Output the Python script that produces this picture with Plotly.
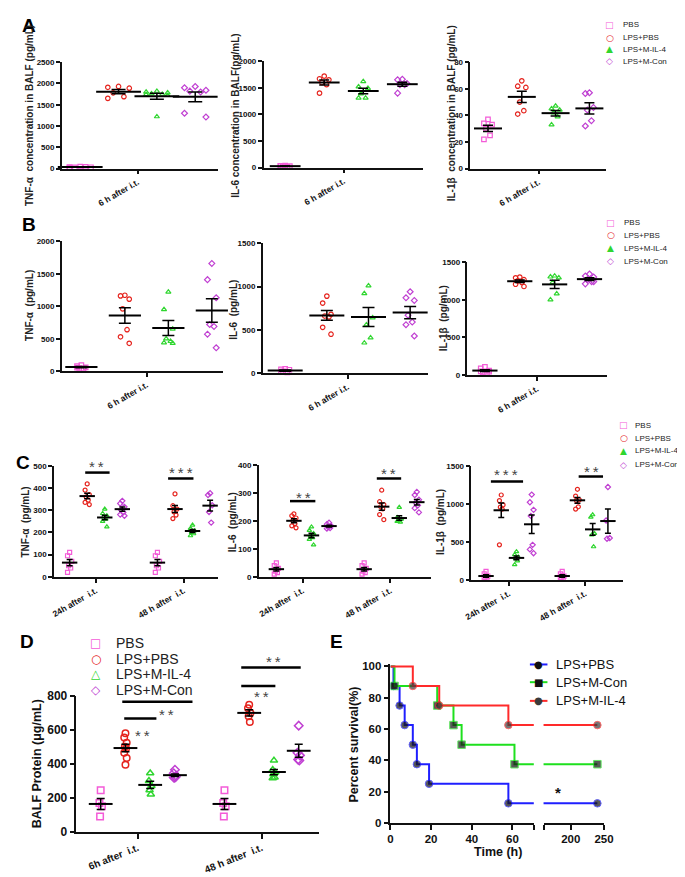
import numpy as np
import plotly.graph_objects as go

W, H = 685, 877
FONT = "Liberation Sans, Arial, sans-serif"
AX = "#111111"

groups = ["PBS", "LPS+PBS", "LPS+M-IL-4", "LPS+M-Con"]
colors = ["#f45bd8", "#e5231d", "#2fd62f", "#c03fd2"]
symbols = ["square-open", "circle-open", "triangle-up-open", "diamond-open"]
glyphs_small = ["\u25a1", "\u25cb", "\u25b2", "\u25c7"]
glyphs_big = ["\u25a1", "\u25cb", "\u25b3", "\u25c7"]

# A: 6 h after i.t., concentration in BALF (PBS, LPS+PBS, LPS+M-IL-4, LPS+M-Con)
a_tnf = [[45, 35, 30, 25, 40, 20],
         [1930, 1910, 1890, 1780, 1690, 1650],
         [1820, 1800, 1780, 1760, 1750, 1740, 1720, 1220],
         [1930, 1900, 1840, 1820, 1800, 1300, 1210]]
a_il6 = [[35, 30, 25, 20, 15, 30],
         [1720, 1670, 1650, 1600, 1560, 1400],
         [1620, 1520, 1490, 1390, 1310, 1310],
         [1660, 1650, 1580, 1560, 1560, 1400]]
a_il1b = [[37, 34, 33, 30, 25, 22],
          [66, 62, 61, 50, 43.5, 41],
          [47, 45, 44, 42, 39, 33],
          [57, 56.5, 46, 44, 36, 32]]

# B: 6 h after i.t.
b_tnf = [[95, 80, 60, 50, 40, 55],
         [1170, 1160, 1110, 960, 640, 530, 430],
         [1220, 950, 650, 500, 460, 440, 430],
         [1660, 1410, 1130, 720, 690, 570, 360]]
b_il6 = [[50, 45, 40, 20, 10, 15],
         [890, 810, 680, 660, 650, 530, 450],
         [1010, 920, 640, 560, 410, 350],
         [940, 870, 840, 670, 590, 560, 430]]
b_il1b = [[110, 90, 60, 40, 30, 50, 45],
          [1300, 1290, 1265, 1250, 1230, 1205, 1175],
          [1316, 1303, 1290, 1230, 1080, 1000],
          [1340, 1315, 1300, 1265, 1240, 1210, 1240]]

# C: 24 h and 48 h after i.t.
c_tnf_24 = [[110, 95, 70, 50, 40, 20],
            [418, 390, 370, 360, 345, 335, 325],
            [305, 285, 275, 270, 260, 250, 225],
            [342, 330, 315, 300, 290, 280, 275]]
c_tnf_48 = [[110, 95, 70, 50, 40, 20],
            [373, 320, 305, 292, 278, 262],
            [233, 218, 208, 200, 194, 185],
            [376, 368, 322, 292, 244]]
c_il6_24 = [[50, 40, 30, 20, 15, 10],
            [225, 218, 210, 200, 190, 182, 175],
            [178, 166, 155, 148, 140, 134, 114],
            [193, 188, 182, 178, 174, 172]]
c_il6_48 = [[50, 40, 30, 20, 15, 10],
            [309, 268, 258, 250, 242, 222, 204],
            [248, 212, 206, 200, 195, 198],
            [303, 292, 275, 265, 255, 245, 230]]
c_il1b_24 = [[110, 80, 50, 30, 20, 10],
             [1115, 1040, 985, 955, 930, 460],
             [370, 330, 300, 280, 250, 200],
             [1120, 1020, 920, 840, 460, 400, 350]]
c_il1b_48 = [[110, 80, 50, 30, 20, 10],
             [1190, 1100, 1050, 1040, 960, 930],
             [855, 825, 610, 590, 435],
             [1220, 780, 550, 540]]

# D: BALF protein
d_6h = [[245, 170, 150, 90],
        [580, 555, 525, 500, 490, 465, 435, 395],
        [345, 300, 270, 245, 220],
        [365, 345, 330, 318, 322, 320]]
d_48h = [[245, 170, 150, 90],
         [748, 727, 700, 680, 646],
         [420, 365, 350, 340, 320, 316],
         [625, 465, 450, 425, 420]]

# E: survival
surv_time_pbs = [0, 1.5, 4.5, 7, 11, 13, 19, 58, 240]
surv_pbs = [100, 87.5, 75, 62.5, 50, 37.5, 25, 12.5, 12.5]
surv_time_con = [0, 2, 23, 31, 35, 61, 240]
surv_con = [100, 87.5, 75, 62.5, 50, 37.5, 37.5]
surv_time_il4 = [0, 11, 24, 58, 240]
surv_il4 = [100, 87.5, 75, 62.5, 62.5]

fig = go.Figure()
JIT = np.array([0, -1, 1, -0.5, 0.5, -1, 1, 0])


def nm(n, a):
    return a if n == 1 else f"{a}{n}"


def add_dots(n, clusters, centers, spread, mean_w, cap, msize, lw=1.2):
    for g in range(4):
        xs, ys, mx, my, se = [], [], [], [], []
        for c, data in zip(centers, clusters):
            v = np.array(data[g], float)
            xs += list(c + g + np.resize(JIT, len(v)) * spread)
            ys += list(v)
            mx.append(c + g)
            my.append(v.mean())
            se.append(v.std(ddof=1) / np.sqrt(len(v)))
        fig.add_trace(go.Scatter(
            x=xs, y=ys, mode="markers", cliponaxis=False, showlegend=False,
            xaxis=nm(n, "x"), yaxis=nm(n, "y"),
            marker=dict(symbol=symbols[g], size=msize, color=colors[g],
                        line=dict(width=lw, color=colors[g]))))
        fig.add_trace(go.Scatter(
            x=mx, y=my, mode="markers", cliponaxis=False, showlegend=False,
            xaxis=nm(n, "x"), yaxis=nm(n, "y"),
            marker=dict(symbol="line-ew", size=mean_w, line=dict(width=2, color="black")),
            error_y=dict(type="data", array=se, color="black", thickness=1.5, width=cap)))


def set_axes(n, xpx, ypx, xr, yr, dtick, tv, tt, tfont, xfont, ticklen=4, angle=-30):
    fig.update_layout({
        nm(n, "xaxis"): dict(domain=[xpx[0] / W, xpx[1] / W], range=xr, anchor=nm(n, "y"),
                             showline=True, linecolor=AX, linewidth=1.5, ticks="outside",
                             ticklen=ticklen, tickwidth=1.5, tickcolor=AX, tickvals=tv, ticktext=tt,
                             tickangle=angle, tickfont=xfont, showgrid=False, zeroline=False),
        nm(n, "yaxis"): dict(domain=[1 - ypx[1] / H, 1 - ypx[0] / H], range=yr, anchor=nm(n, "x"),
                             showline=True, linecolor=AX, linewidth=1.5, ticks="outside",
                             ticklen=ticklen, tickwidth=1.5, tickcolor=AX, dtick=dtick,
                             tickfont=tfont, showgrid=False, zeroline=False),
    })


def ann(x, y, text, size, bold=False, color="#111", angle=0, xanchor="center", family=FONT):
    fig.add_annotation(x=x / W, y=1 - y / H, xref="paper", yref="paper", text=text,
                       showarrow=False, textangle=angle, xanchor=xanchor, yanchor="middle",
                       font=dict(family=family, size=size, color=color,
                                 weight="bold" if bold else "normal"))


def hline(x0, x1, y, width=2.5, color="black"):
    fig.add_shape(type="line", xref="paper", yref="paper", x0=x0 / W, x1=x1 / W,
                  y0=1 - y / H, y1=1 - y / H, line=dict(color=color, width=width))


small_t = dict(family=FONT, size=8, color="#111", weight="bold")
small_x = dict(family=FONT, size=8.5, color="#111", weight="bold")
lab6 = ["6 h after i.t."]
labC = ["24h after\u00a0 i.t.", "48 h after\u00a0 i.t."]

# n, data, centers, xpx, ypx, xrange, yrange, dtick, ticktext, spread, mean width, cap, marker size
panels = [
    (1, [a_tnf], [0], (48, 208), (48, 156), [-0.48, 3.59], [0, 2500], 500, lab6, 0.28, 32, 7, 4.5),
    (2, [a_il6], [0], (255, 418), (47, 155), [-0.55, 3.52], [0, 2000], 500, lab6, 0.12, 22, 5, 4.5),
    (3, [a_il1b], [0], (467, 606), (48, 156), [-0.52, 3.49], [0, 80], 20, lab6, 0.12, 20, 5, 4.5),
    (4, [b_tnf], [0], (48, 213), (230, 362), [-0.45, 3.25], [0, 2000], 500, lab6, 0.1, 23, 6, 4.5),
    (5, [b_il6], [0], (254, 424), (232, 364), [-0.54, 3.44], [0, 1500], 500, lab6, 0.1, 25, 6, 4.5),
    (6, [b_il1b], [0], (464, 607), (251, 366), [-0.5, 3.5], [0, 1500], 500, lab6, 0.12, 18, 5, 4.5),
    (7, [c_tnf_24, c_tnf_48], [0, 5], (40, 208), (458, 571), [-0.89, 8.44], [0, 500], 100, labC, 0.12, 11, 3, 4),
    (8, [c_il6_24, c_il6_48], [0, 5], (250, 427), (457, 571), [-1.0, 8.83], [0, 400], 100, labC, 0.12, 11, 3, 4),
    (9, [c_il1b_24, c_il1b_48], [0, 5], (468, 623), (458, 574), [-0.96, 8.96], [0, 1500], 500, labC, 0.12, 11, 3, 4),
]
for n, data, centers, xpx, ypx, xr, yr, dt, tt, spread, mw, cap, ms in panels:
    add_dots(n, data, centers, spread, mw, cap, ms)
    set_axes(n, xpx, ypx, xr, yr, dt, [c + 1.5 for c in centers], tt, small_t, small_x)

# D
add_dots(10, [d_6h, d_48h], [0, 5], 0.05, 17, 4, 6.5, lw=1.5)
set_axes(10, (63, 312), (692, 830), [-0.98, 8.83], [0, 800], 200, [1.5, 6.5],
         ["6h after\u00a0 i.t.", "48 h after\u00a0 i.t."],
         dict(family=FONT, size=12, color="#111", weight="bold"),
         dict(family=FONT, size=10, color="#111", weight="bold"), ticklen=5, angle=-22)

# E: survival with broken x axis
series = [(surv_time_pbs, surv_pbs, "#1f1fff", "circle", "#111"),
          (surv_time_con, surv_con, "#1ee01e", "square", "#111"),
          (surv_time_il4, surv_il4, "#ff2a2a", "circle", "#3a3a3a")]
for t, s, lc, sym, mc in series:
    for xa in ["x11", "x12"]:
        fig.add_trace(go.Scatter(
            x=t, y=s, mode="lines+markers", xaxis=xa, yaxis="y11", showlegend=False,
            line=dict(color=lc, width=2, shape="hv"),
            marker=dict(symbol=sym, color=mc, size=[0] + [7.5] * (len(t) - 1))))

efont = dict(family=FONT, size=11.5, color="#111", weight="bold")
ecommon = dict(showline=True, linecolor=AX, linewidth=1.5, ticks="outside", ticklen=5,
               tickwidth=1.5, tickcolor=AX, tickfont=efont, showgrid=False, zeroline=False)
fig.update_layout(
    xaxis11=dict(domain=[385 / W, 532 / W], range=[0, 70.5], anchor="y11",
                 tickvals=[0, 20, 40, 60, 70.5], ticktext=["0", "20", "40", "60", ""], **ecommon),
    xaxis12=dict(domain=[542 / W, 604 / W], range=[159, 250], anchor="y11",
                 tickvals=[159, 200, 250], ticktext=["", "200", "250"], **ecommon),
    yaxis11=dict(domain=[1 - 821 / H, 1 - 659.6 / H], range=[0, 101.5], anchor="x11",
                 tickvals=[0, 20, 40, 60, 80, 100], **ecommon),
)

# panel letters
for letter, x, y in [("A", 14, 11), ("B", 14, 213), ("C", 8, 455), ("D", 12, 637), ("E", 330, 637)]:
    ann(x, y, letter, 19, bold=True, color="#000")

# y axis titles
ytitles = [
    ("TNF-\u03b1\u00a0 concentration in BALF (pg/mL)", 15, 102),
    ("IL-6 concentration in BALF(pg/mL)", 226, 102),
    ("IL-1\u03b2\u00a0 concentration in BALF (pg/mL)", 447, 100),
    ("TNF-\u03b1\u00a0 (pg/mL)", 15, 295),
    ("IL-6\u00a0 (pg/mL)", 224, 299),
    ("IL-1\u03b2\u00a0 (pg/mL)", 439, 308),
    ("TNF-\u03b1\u00a0 (pg/mL)", 11, 515),
    ("IL-6\u00a0 (pg/mL)", 223, 515),
    ("IL-1\u03b2\u00a0 (pg/mL)", 437, 515),
]
for text, x, y in ytitles:
    ann(x, y, text, 10, bold=True, color="#222", angle=-90)
ann(22, 761, "BALF Protein (\u03bcg/mL)", 12.5, bold=True, angle=-90)
ann(348, 741, "Percent survival(%)", 12.5, bold=True, angle=-90)
ann(495, 851, "Time (h)", 12.5, bold=True)
ann(557, 790, "*", 15, bold=True)

# legends for A, B, C, D
for gx, tx, rows, size, gsize, glyphs in [
    (610, 621, [10, 23, 35, 47], 8, 9, glyphs_small),
    (611, 622, [211, 224, 237, 250], 8, 9, glyphs_small),
    (624, 634, [417, 430, 443, 457], 8, 9, glyphs_small),
    (83, 102, [638, 654, 670, 686], 14, 12, glyphs_big),
]:
    for g in range(4):
        ann(gx, rows[g], glyphs[g], gsize, color=colors[g], family="DejaVu Sans")
        ann(tx, rows[g], groups[g], size, color="#222", xanchor="left")

# legend E
for (t, s, lc, sym, mc), name, y in zip(series, ["LPS+PBS", "LPS+M-Con", "LPS+M-IL-4"], [660, 678, 697]):
    hline(528, 546, y, width=2, color=lc)
    ann(537, y, "\u25cf" if sym == "circle" else "\u25a0", 10, color=mc, family="DejaVu Sans")
    ann(553, y, name, 13, color="#111", xanchor="left")

# significance bars
sig = [
    (72, 97, 465, "*\u2009*", 84, 456),
    (157, 183, 471, "*\u2009*\u2009*", 170, 462),
    (282, 308, 494, "*\u2009*", 296, 487),
    (371, 396, 471, "*\u2009*", 383, 463),
    (488, 521, 474, "*\u2009*\u2009*", 503, 464),
    (578, 603, 469, "*\u2009*", 591, 461),
    (110, 182, 698, "*\u2009*", 155, 708),
    (112, 145, 715, "*\u2009*", 131, 729),
    (232, 293, 663, "*\u2009*", 265, 654),
    (232, 267, 682, "*\u2009*", 253, 690),
]
for x0, x1, y, text, tx, ty in sig:
    hline(x0, x1, y)
    ann(tx, ty + 3, text, 15, color="#444")

fig.update_layout(width=W, height=H, margin=dict(l=0, r=0, t=0, b=0),
                  paper_bgcolor="white", plot_bgcolor="white", showlegend=False,
                  font=dict(family=FONT, color="#111"))
fig.write_html("out.html")
